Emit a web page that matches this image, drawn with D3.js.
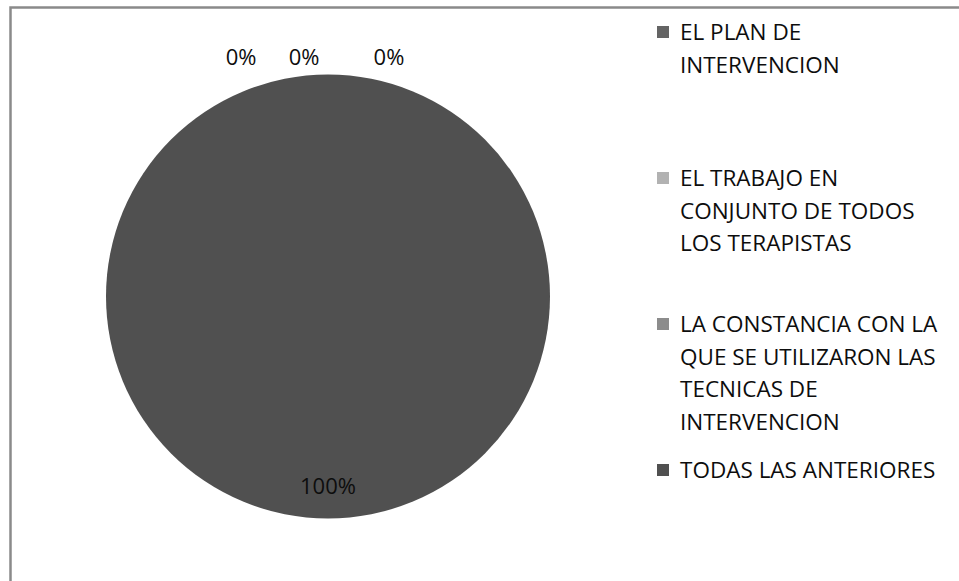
<!DOCTYPE html>
<html>
<head>
<meta charset="utf-8">
<script src="https://cdn.jsdelivr.net/npm/d3@7"></script>
<style>
  html, body { margin: 0; padding: 0; background: #ffffff; }
  svg { display: block; }
  text { font-family: "Open Sans", "DejaVu Sans", sans-serif; fill: #0d0d0d; }
</style>
</head>
<body>
<svg id="chart" width="959" height="581"></svg>
<script>
// Responses to the survey question
const categories = [
  "EL PLAN DE INTERVENCION",
  "EL TRABAJO EN CONJUNTO DE TODOS LOS TERAPISTAS",
  "LA CONSTANCIA CON LA QUE SE UTILIZARON LAS TECNICAS DE INTERVENCION",
  "TODAS LAS ANTERIORES"
];
const legendLines = [
  ["EL PLAN DE", "INTERVENCION"],
  ["EL TRABAJO EN", "CONJUNTO DE TODOS", "LOS TERAPISTAS"],
  ["LA CONSTANCIA CON LA", "QUE SE UTILIZARON LAS", "TECNICAS DE", "INTERVENCION"],
  ["TODAS LAS ANTERIORES"]
];
const values = [0, 0, 0, 100];
const sliceColors = ["#646464", "#b2b2b2", "#8c8c8c", "#505050"];

const svg = d3.select("#chart");

// Chart area frame
svg.append("rect")
  .attr("x", 10.5).attr("y", 7.5)
  .attr("width", 1200).attr("height", 1200)
  .attr("fill", "none")
  .attr("stroke", "#8a8a8a")
  .attr("stroke-width", 2.5);

const cx = 328, cy = 296.5, R = 222;
const total = d3.sum(values);
const color = d3.scaleOrdinal().domain(categories).range(sliceColors);

const pie = d3.pie().sort(null).value(d => d.value);
const arcs = pie(categories.map((c, i) => ({ name: c, value: values[i] })));
const arc = d3.arc().innerRadius(0).outerRadius(R);
const labelArc = d3.arc().innerRadius(R * 0.855).outerRadius(R * 0.855);

const g = svg.append("g").attr("transform", `translate(${cx},${cy})`);

g.selectAll("path.slice")
  .data(arcs.filter(a => a.value > 0))
  .join("path")
  .attr("class", "slice")
  .attr("d", arc)
  .attr("fill", d => color(d.data.name));

// Percentage labels: empty slices sit above the pie, spread sideways so they don't collide
const pct = d => d3.format(".0%")(d.value / total);
const zeroLabelDx = [-87, -24, 61];
let zi = 0;
arcs.forEach(a => {
  let x, y;
  if (a.value > 0) {
    [x, y] = labelArc.centroid(a);
    y += 8;
  } else {
    x = zeroLabelDx[zi++];
    y = -R - 10;
  }
  g.append("text")
    .attr("x", x).attr("y", y)
    .attr("text-anchor", "middle")
    .attr("font-size", 22)
    .text(pct(a));
});

// Legend
const legend = svg.append("g").attr("transform", "translate(657,0)");
const entryPitch = 146, firstBaseline = 40, lineGap = 32.7;
legendLines.forEach((lines, i) => {
  const base = firstBaseline + i * entryPitch;
  legend.append("rect")
    .attr("x", 0).attr("y", base - 14)
    .attr("width", 12).attr("height", 12)
    .attr("fill", sliceColors[i]);
  lines.forEach((ln, j) => {
    legend.append("text")
      .attr("x", 23).attr("y", base + j * lineGap)
      .attr("font-size", 22.5)
      .text(ln);
  });
});
</script>
</body>
</html>
